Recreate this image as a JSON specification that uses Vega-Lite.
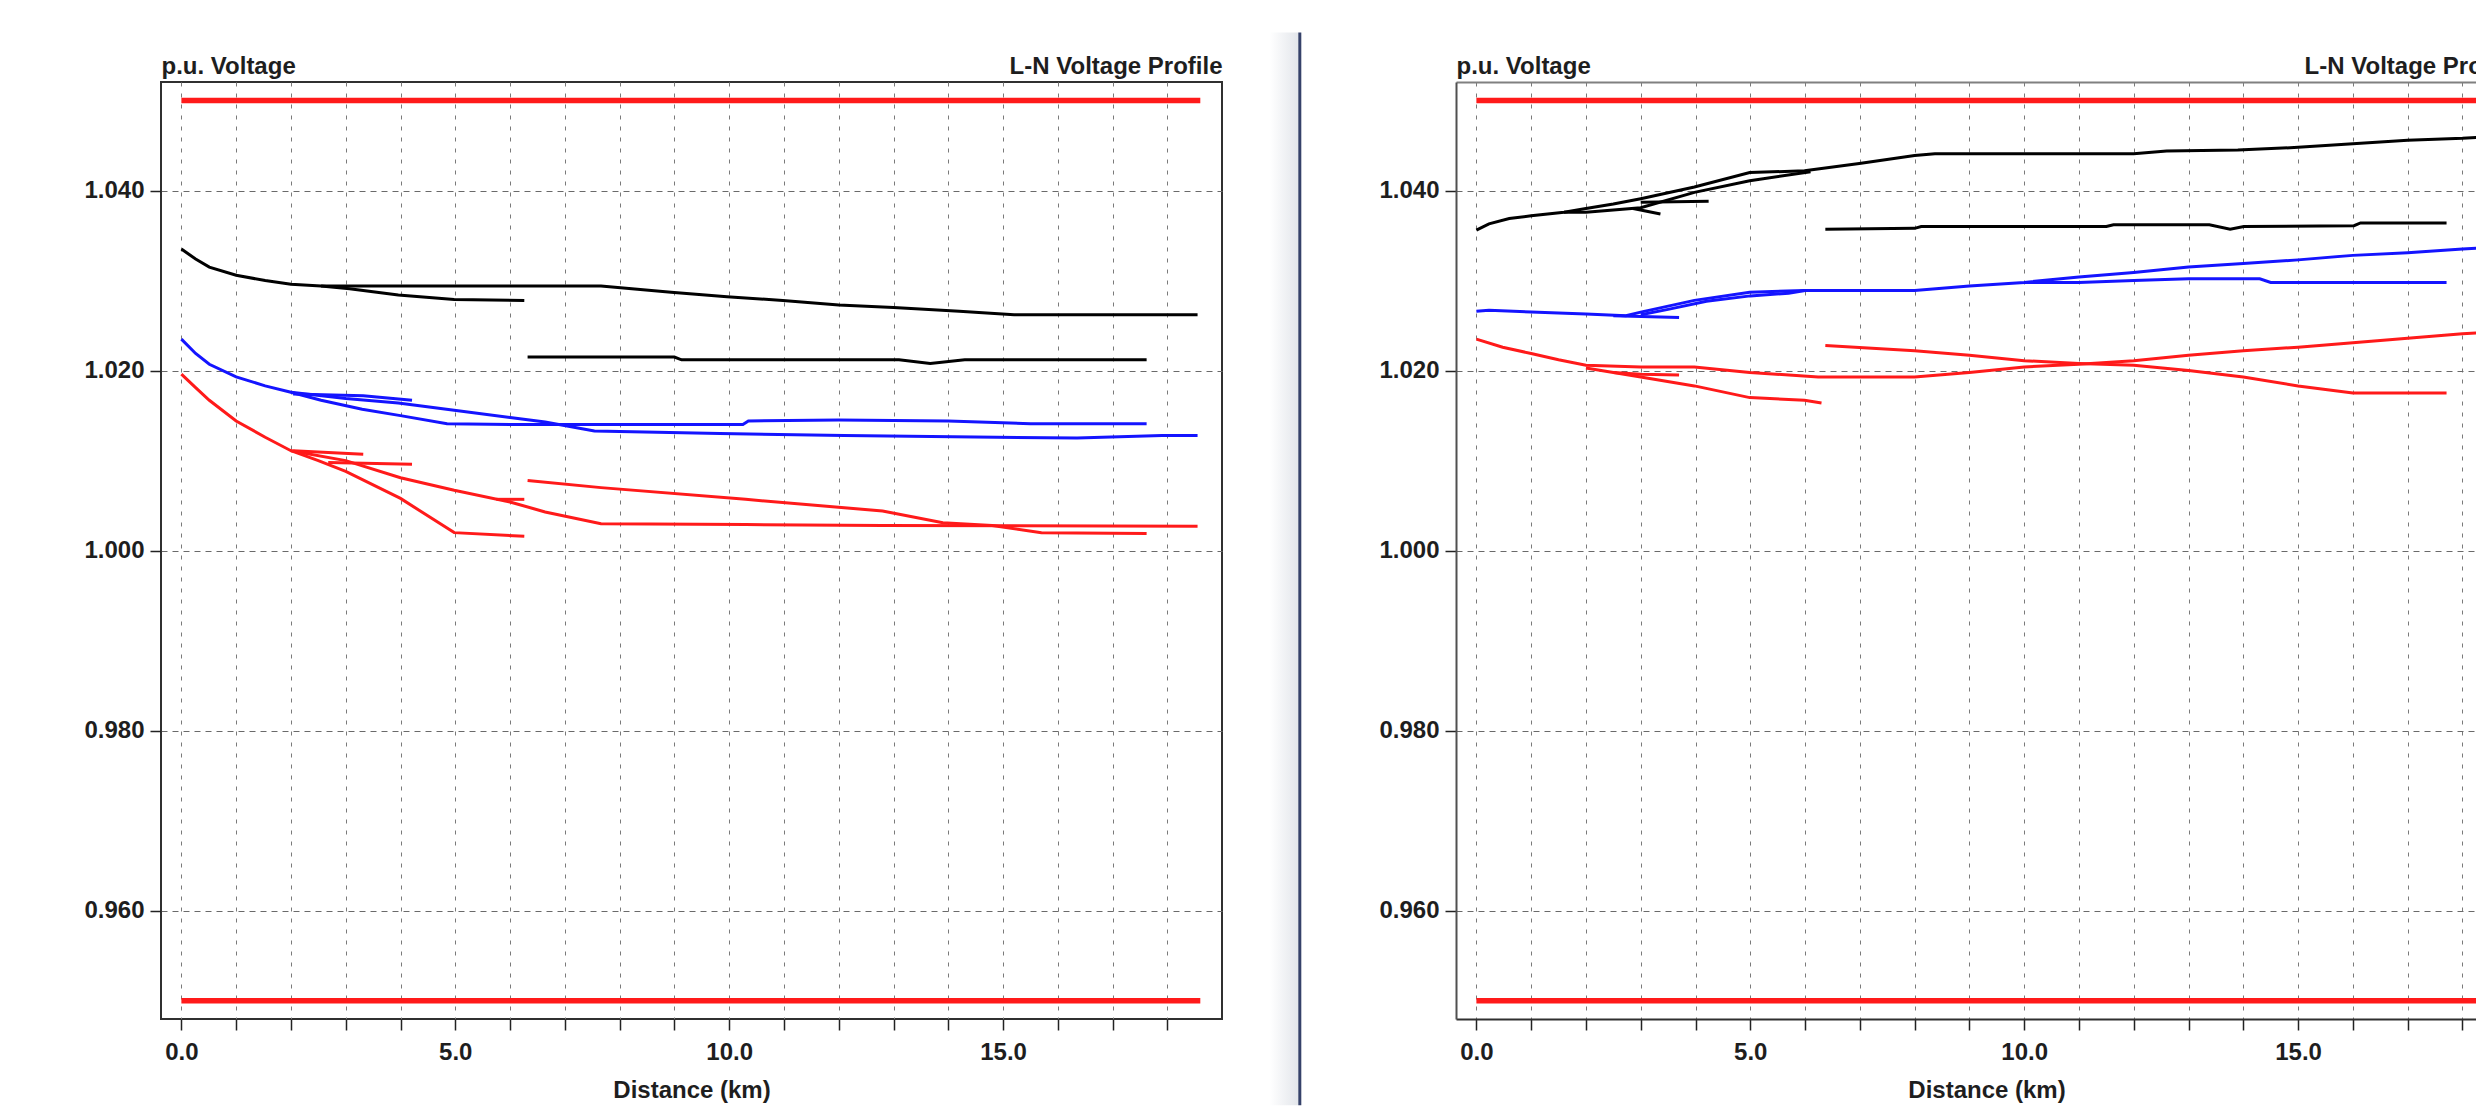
{
  "$schema": "https://vega.github.io/schema/vega-lite/v6.json",
  "background": "white",
  "padding": {"left": 82, "top": 32, "right": 0, "bottom": 0},
  "spacing": 0,
  "datasets": {
    "limits": [
      {"s": "hi", "km": 0, "v": 1.05}, {"s": "hi", "km": 18.6, "v": 1.05},
      {"s": "lo", "km": 0, "v": 0.95}, {"s": "lo", "km": 18.6, "v": 0.95}
    ],
    "curves": [
      {"p":"L","s":"L_A1","ph":"A","km":0,"v":1.0335},{"p":"L","s":"L_A1","ph":"A","km":0.26,"v":1.0324},{"p":"L","s":"L_A1","ph":"A","km":0.51,"v":1.0315},{"p":"L","s":"L_A1","ph":"A","km":1.0,"v":1.0306},{"p":"L","s":"L_A1","ph":"A","km":1.53,"v":1.03},{"p":"L","s":"L_A1","ph":"A","km":2.0,"v":1.0296},{"p":"L","s":"L_A1","ph":"A","km":2.55,"v":1.0294},{"p":"L","s":"L_A1","ph":"A","km":7.66,"v":1.0294},{"p":"L","s":"L_A1","ph":"A","km":8.94,"v":1.0287},{"p":"L","s":"L_A1","ph":"A","km":9.96,"v":1.0282},{"p":"L","s":"L_A1","ph":"A","km":10.98,"v":1.0278},{"p":"L","s":"L_A1","ph":"A","km":12.0,"v":1.0273},{"p":"L","s":"L_A1","ph":"A","km":13.0,"v":1.027},{"p":"L","s":"L_A1","ph":"A","km":14.2,"v":1.0266},{"p":"L","s":"L_A1","ph":"A","km":15.2,"v":1.0262},{"p":"L","s":"L_A1","ph":"A","km":18.55,"v":1.0262},
      {"p":"L","s":"L_A2","ph":"A","km":2.55,"v":1.0294},{"p":"L","s":"L_A2","ph":"A","km":3.07,"v":1.0291},{"p":"L","s":"L_A2","ph":"A","km":3.96,"v":1.0284},{"p":"L","s":"L_A2","ph":"A","km":4.98,"v":1.0279},{"p":"L","s":"L_A2","ph":"A","km":6.26,"v":1.0278},
      {"p":"L","s":"L_A3","ph":"A","km":6.32,"v":1.0215},{"p":"L","s":"L_A3","ph":"A","km":9.0,"v":1.0215},{"p":"L","s":"L_A3","ph":"A","km":9.13,"v":1.0212},{"p":"L","s":"L_A3","ph":"A","km":13.1,"v":1.0212},{"p":"L","s":"L_A3","ph":"A","km":13.67,"v":1.0208},{"p":"L","s":"L_A3","ph":"A","km":14.3,"v":1.0212},{"p":"L","s":"L_A3","ph":"A","km":17.62,"v":1.0212},
      {"p":"L","s":"L_B1","ph":"B","km":0,"v":1.0235},{"p":"L","s":"L_B1","ph":"B","km":0.26,"v":1.0219},{"p":"L","s":"L_B1","ph":"B","km":0.51,"v":1.0207},{"p":"L","s":"L_B1","ph":"B","km":1.0,"v":1.0193},{"p":"L","s":"L_B1","ph":"B","km":1.53,"v":1.0183},{"p":"L","s":"L_B1","ph":"B","km":2.0,"v":1.0176},{"p":"L","s":"L_B1","ph":"B","km":2.55,"v":1.0167},{"p":"L","s":"L_B1","ph":"B","km":3.3,"v":1.0157},{"p":"L","s":"L_B1","ph":"B","km":4.0,"v":1.015},{"p":"L","s":"L_B1","ph":"B","km":4.85,"v":1.0141},{"p":"L","s":"L_B1","ph":"B","km":6.0,"v":1.014},{"p":"L","s":"L_B1","ph":"B","km":10.25,"v":1.014},{"p":"L","s":"L_B1","ph":"B","km":10.35,"v":1.0144},{"p":"L","s":"L_B1","ph":"B","km":12.0,"v":1.0145},{"p":"L","s":"L_B1","ph":"B","km":14.0,"v":1.0144},{"p":"L","s":"L_B1","ph":"B","km":15.5,"v":1.0141},{"p":"L","s":"L_B1","ph":"B","km":17.62,"v":1.0141},
      {"p":"L","s":"L_B2","ph":"B","km":2.0,"v":1.0176},{"p":"L","s":"L_B2","ph":"B","km":3.0,"v":1.0169},{"p":"L","s":"L_B2","ph":"B","km":3.96,"v":1.0164},{"p":"L","s":"L_B2","ph":"B","km":4.98,"v":1.0156},{"p":"L","s":"L_B2","ph":"B","km":6.0,"v":1.0148},{"p":"L","s":"L_B2","ph":"B","km":6.64,"v":1.0143},{"p":"L","s":"L_B2","ph":"B","km":7.54,"v":1.0133},{"p":"L","s":"L_B2","ph":"B","km":9.83,"v":1.013},{"p":"L","s":"L_B2","ph":"B","km":12.1,"v":1.0128},{"p":"L","s":"L_B2","ph":"B","km":16.35,"v":1.0125},{"p":"L","s":"L_B2","ph":"B","km":17.9,"v":1.0128},{"p":"L","s":"L_B2","ph":"B","km":18.55,"v":1.0128},
      {"p":"L","s":"L_B3","ph":"B","km":2.04,"v":1.0174},{"p":"L","s":"L_B3","ph":"B","km":3.32,"v":1.0172},{"p":"L","s":"L_B3","ph":"B","km":4.21,"v":1.0167},
      {"p":"L","s":"L_C1","ph":"C","km":0,"v":1.0196},{"p":"L","s":"L_C1","ph":"C","km":0.26,"v":1.0181},{"p":"L","s":"L_C1","ph":"C","km":0.51,"v":1.0167},{"p":"L","s":"L_C1","ph":"C","km":1.0,"v":1.0144},{"p":"L","s":"L_C1","ph":"C","km":1.53,"v":1.0126},{"p":"L","s":"L_C1","ph":"C","km":2.0,"v":1.0111},{"p":"L","s":"L_C1","ph":"C","km":2.5,"v":1.01},{"p":"L","s":"L_C1","ph":"C","km":3.0,"v":1.0088},{"p":"L","s":"L_C1","ph":"C","km":4.0,"v":1.0058},{"p":"L","s":"L_C1","ph":"C","km":4.98,"v":1.002},{"p":"L","s":"L_C1","ph":"C","km":6.26,"v":1.0016},
      {"p":"L","s":"L_C2","ph":"C","km":2.0,"v":1.0111},{"p":"L","s":"L_C2","ph":"C","km":3.0,"v":1.01},{"p":"L","s":"L_C2","ph":"C","km":4.0,"v":1.0081},{"p":"L","s":"L_C2","ph":"C","km":4.98,"v":1.0067},{"p":"L","s":"L_C2","ph":"C","km":6.0,"v":1.0054},{"p":"L","s":"L_C2","ph":"C","km":6.64,"v":1.0043},{"p":"L","s":"L_C2","ph":"C","km":7.66,"v":1.003},{"p":"L","s":"L_C2","ph":"C","km":10.3,"v":1.0029},{"p":"L","s":"L_C2","ph":"C","km":12.8,"v":1.0028},{"p":"L","s":"L_C2","ph":"C","km":18.55,"v":1.0027},
      {"p":"L","s":"L_C3","ph":"C","km":6.32,"v":1.0078},{"p":"L","s":"L_C3","ph":"C","km":7.66,"v":1.007},{"p":"L","s":"L_C3","ph":"C","km":10.3,"v":1.0057},{"p":"L","s":"L_C3","ph":"C","km":12.8,"v":1.0044},{"p":"L","s":"L_C3","ph":"C","km":13.9,"v":1.0031},{"p":"L","s":"L_C3","ph":"C","km":14.8,"v":1.0028},{"p":"L","s":"L_C3","ph":"C","km":15.7,"v":1.002},{"p":"L","s":"L_C3","ph":"C","km":17.62,"v":1.0019},
      {"p":"L","s":"L_C4","ph":"C","km":2.04,"v":1.0111},{"p":"L","s":"L_C4","ph":"C","km":3.32,"v":1.0107},
      {"p":"L","s":"L_C5","ph":"C","km":2.68,"v":1.0098},{"p":"L","s":"L_C5","ph":"C","km":4.21,"v":1.0096},
      {"p":"L","s":"L_C6","ph":"C","km":5.75,"v":1.0057},{"p":"L","s":"L_C6","ph":"C","km":6.26,"v":1.0057},
      {"p":"R","s":"R_A1","ph":"A","km":0,"v":1.0356},{"p":"R","s":"R_A1","ph":"A","km":0.23,"v":1.0363},{"p":"R","s":"R_A1","ph":"A","km":0.6,"v":1.0369},{"p":"R","s":"R_A1","ph":"A","km":1.0,"v":1.0372},{"p":"R","s":"R_A1","ph":"A","km":1.6,"v":1.0376},{"p":"R","s":"R_A1","ph":"A","km":2.0,"v":1.038},{"p":"R","s":"R_A1","ph":"A","km":2.5,"v":1.0385},{"p":"R","s":"R_A1","ph":"A","km":3.0,"v":1.0391},{"p":"R","s":"R_A1","ph":"A","km":3.98,"v":1.0404},{"p":"R","s":"R_A1","ph":"A","km":4.99,"v":1.042},{"p":"R","s":"R_A1","ph":"A","km":5.99,"v":1.0422},{"p":"R","s":"R_A1","ph":"A","km":6.99,"v":1.043},{"p":"R","s":"R_A1","ph":"A","km":8.0,"v":1.0439},{"p":"R","s":"R_A1","ph":"A","km":8.37,"v":1.0441},{"p":"R","s":"R_A1","ph":"A","km":12.0,"v":1.0441},{"p":"R","s":"R_A1","ph":"A","km":12.6,"v":1.0444},{"p":"R","s":"R_A1","ph":"A","km":13.9,"v":1.0445},{"p":"R","s":"R_A1","ph":"A","km":15.0,"v":1.0448},{"p":"R","s":"R_A1","ph":"A","km":16.0,"v":1.0452},{"p":"R","s":"R_A1","ph":"A","km":17.0,"v":1.0456},{"p":"R","s":"R_A1","ph":"A","km":18.0,"v":1.0458},{"p":"R","s":"R_A1","ph":"A","km":18.55,"v":1.046},
      {"p":"R","s":"R_A2","ph":"A","km":1.6,"v":1.0376},{"p":"R","s":"R_A2","ph":"A","km":2.0,"v":1.0376},{"p":"R","s":"R_A2","ph":"A","km":3.0,"v":1.0381},{"p":"R","s":"R_A2","ph":"A","km":3.98,"v":1.0398},{"p":"R","s":"R_A2","ph":"A","km":4.99,"v":1.0411},{"p":"R","s":"R_A2","ph":"A","km":6.1,"v":1.0421},
      {"p":"R","s":"R_A3","ph":"A","km":3.0,"v":1.0387},{"p":"R","s":"R_A3","ph":"A","km":4.24,"v":1.0388},
      {"p":"R","s":"R_A4","ph":"A","km":2.86,"v":1.038},{"p":"R","s":"R_A4","ph":"A","km":3.36,"v":1.0374},
      {"p":"R","s":"R_A5","ph":"A","km":6.37,"v":1.0357},{"p":"R","s":"R_A5","ph":"A","km":8.0,"v":1.0358},{"p":"R","s":"R_A5","ph":"A","km":8.12,"v":1.036},{"p":"R","s":"R_A5","ph":"A","km":11.5,"v":1.036},{"p":"R","s":"R_A5","ph":"A","km":11.63,"v":1.0362},{"p":"R","s":"R_A5","ph":"A","km":13.38,"v":1.0362},{"p":"R","s":"R_A5","ph":"A","km":13.76,"v":1.0357},{"p":"R","s":"R_A5","ph":"A","km":14.01,"v":1.036},{"p":"R","s":"R_A5","ph":"A","km":16.02,"v":1.0361},{"p":"R","s":"R_A5","ph":"A","km":16.14,"v":1.0364},{"p":"R","s":"R_A5","ph":"A","km":17.71,"v":1.0364},
      {"p":"R","s":"R_B1","ph":"B","km":0,"v":1.0266},{"p":"R","s":"R_B1","ph":"B","km":0.23,"v":1.0267},{"p":"R","s":"R_B1","ph":"B","km":1.0,"v":1.0265},{"p":"R","s":"R_B1","ph":"B","km":2.0,"v":1.0263},{"p":"R","s":"R_B1","ph":"B","km":2.73,"v":1.0261},{"p":"R","s":"R_B1","ph":"B","km":3.0,"v":1.0265},{"p":"R","s":"R_B1","ph":"B","km":3.98,"v":1.0278},{"p":"R","s":"R_B1","ph":"B","km":4.99,"v":1.0287},{"p":"R","s":"R_B1","ph":"B","km":5.99,"v":1.0289},{"p":"R","s":"R_B1","ph":"B","km":8.0,"v":1.0289},{"p":"R","s":"R_B1","ph":"B","km":9.0,"v":1.0294},{"p":"R","s":"R_B1","ph":"B","km":10.0,"v":1.0298},{"p":"R","s":"R_B1","ph":"B","km":11.0,"v":1.0304},{"p":"R","s":"R_B1","ph":"B","km":12.0,"v":1.0309},{"p":"R","s":"R_B1","ph":"B","km":13.0,"v":1.0315},{"p":"R","s":"R_B1","ph":"B","km":14.0,"v":1.0319},{"p":"R","s":"R_B1","ph":"B","km":15.0,"v":1.0323},{"p":"R","s":"R_B1","ph":"B","km":16.0,"v":1.0328},{"p":"R","s":"R_B1","ph":"B","km":17.0,"v":1.0331},{"p":"R","s":"R_B1","ph":"B","km":18.0,"v":1.0335},{"p":"R","s":"R_B1","ph":"B","km":18.55,"v":1.0337},
      {"p":"R","s":"R_B2","ph":"B","km":10.0,"v":1.0298},{"p":"R","s":"R_B2","ph":"B","km":11.0,"v":1.0298},{"p":"R","s":"R_B2","ph":"B","km":12.0,"v":1.03},{"p":"R","s":"R_B2","ph":"B","km":13.0,"v":1.0302},{"p":"R","s":"R_B2","ph":"B","km":14.3,"v":1.0302},{"p":"R","s":"R_B2","ph":"B","km":14.5,"v":1.0298},{"p":"R","s":"R_B2","ph":"B","km":17.71,"v":1.0298},
      {"p":"R","s":"R_B3","ph":"B","km":2.5,"v":1.0261},{"p":"R","s":"R_B3","ph":"B","km":3.7,"v":1.0259},
      {"p":"R","s":"R_B4","ph":"B","km":3.0,"v":1.0262},{"p":"R","s":"R_B4","ph":"B","km":3.5,"v":1.0268},{"p":"R","s":"R_B4","ph":"B","km":4.2,"v":1.0277},{"p":"R","s":"R_B4","ph":"B","km":5.0,"v":1.0283},{"p":"R","s":"R_B4","ph":"B","km":5.7,"v":1.0286},{"p":"R","s":"R_B4","ph":"B","km":6.0,"v":1.0289},
      {"p":"R","s":"R_C1","ph":"C","km":0,"v":1.0235},{"p":"R","s":"R_C1","ph":"C","km":0.48,"v":1.0226},{"p":"R","s":"R_C1","ph":"C","km":1.0,"v":1.0219},{"p":"R","s":"R_C1","ph":"C","km":1.5,"v":1.0212},{"p":"R","s":"R_C1","ph":"C","km":2.0,"v":1.0206},{"p":"R","s":"R_C1","ph":"C","km":3.0,"v":1.0204},{"p":"R","s":"R_C1","ph":"C","km":3.98,"v":1.0204},{"p":"R","s":"R_C1","ph":"C","km":4.99,"v":1.0198},{"p":"R","s":"R_C1","ph":"C","km":6.24,"v":1.0193},{"p":"R","s":"R_C1","ph":"C","km":8.0,"v":1.0193},{"p":"R","s":"R_C1","ph":"C","km":9.0,"v":1.0198},{"p":"R","s":"R_C1","ph":"C","km":10.0,"v":1.0204},{"p":"R","s":"R_C1","ph":"C","km":11.0,"v":1.0207},{"p":"R","s":"R_C1","ph":"C","km":12.0,"v":1.0211},{"p":"R","s":"R_C1","ph":"C","km":13.0,"v":1.0217},{"p":"R","s":"R_C1","ph":"C","km":14.0,"v":1.0222},{"p":"R","s":"R_C1","ph":"C","km":15.0,"v":1.0226},{"p":"R","s":"R_C1","ph":"C","km":16.0,"v":1.0231},{"p":"R","s":"R_C1","ph":"C","km":17.0,"v":1.0236},{"p":"R","s":"R_C1","ph":"C","km":18.0,"v":1.0241},{"p":"R","s":"R_C1","ph":"C","km":18.55,"v":1.0243},
      {"p":"R","s":"R_C2","ph":"C","km":2.0,"v":1.0203},{"p":"R","s":"R_C2","ph":"C","km":3.0,"v":1.0193},{"p":"R","s":"R_C2","ph":"C","km":3.98,"v":1.0183},{"p":"R","s":"R_C2","ph":"C","km":4.99,"v":1.017},{"p":"R","s":"R_C2","ph":"C","km":5.99,"v":1.0167},{"p":"R","s":"R_C2","ph":"C","km":6.3,"v":1.0164},
      {"p":"R","s":"R_C3","ph":"C","km":2.5,"v":1.0198},{"p":"R","s":"R_C3","ph":"C","km":3.0,"v":1.0196},{"p":"R","s":"R_C3","ph":"C","km":3.7,"v":1.0195},
      {"p":"R","s":"R_C4","ph":"C","km":6.37,"v":1.0228},{"p":"R","s":"R_C4","ph":"C","km":8.0,"v":1.0222},{"p":"R","s":"R_C4","ph":"C","km":9.0,"v":1.0217},{"p":"R","s":"R_C4","ph":"C","km":10.0,"v":1.0211},{"p":"R","s":"R_C4","ph":"C","km":11.0,"v":1.0208},{"p":"R","s":"R_C4","ph":"C","km":12.0,"v":1.0206},{"p":"R","s":"R_C4","ph":"C","km":13.0,"v":1.02},{"p":"R","s":"R_C4","ph":"C","km":14.0,"v":1.0193},{"p":"R","s":"R_C4","ph":"C","km":15.0,"v":1.0183},{"p":"R","s":"R_C4","ph":"C","km":16.0,"v":1.0175},{"p":"R","s":"R_C4","ph":"C","km":17.71,"v":1.0175}
    ]
  },
  "hconcat": [
    {
      "width": 1061, "height": 937,
      "view": {"stroke": "#303030", "strokeWidth": 2},
      "resolve": {"axis": {"x": "independent"}},
      "layer": [
        {
          "data": {"name": "limits"},
          "mark": {"type": "line", "color": "#ff1a1a", "strokeWidth": 5.5},
          "encoding": {
            "x": {"field": "km", "type": "quantitative",
              "scale": {"domain": [-0.372, 18.996], "nice": false, "zero": false},
              "axis": {"orient": "bottom", "values": [0,1,2,3,4,5,6,7,8,9,10,11,12,13,14,15,16,17,18],
                "labelExpr": "datum.value % 5 === 0 ? format(datum.value, '.1f') : ''",
                "title": "Distance (km)", "grid": true, "gridDash": [4, 7], "gridColor": "#7a7a7a", "gridWidth": 1,
                "domain": false, "tickSize": 11, "tickColor": "#222222", "tickWidth": 1.5,
                "labelPadding": 10, "labelOverlap": false, "labelFlush": false, "titlePadding": 14}},
            "y": {"field": "v", "type": "quantitative",
              "scale": {"domain": [0.94797, 1.05206], "nice": false, "zero": false},
              "axis": {"values": [0.96, 0.98, 1.0, 1.02, 1.04], "format": ".3f",
                "title": "p.u. Voltage", "titleAngle": 0, "titleAlign": "left", "titleBaseline": "alphabetic",
                "titleX": 0, "titleY": -9, "grid": true, "gridDash": [6, 5], "gridColor": "#6a6a6a",
                "domain": false, "tickSize": 11, "tickColor": "#222222", "tickWidth": 1.5, "labelPadding": 6}},
            "detail": {"field": "s"}
          }
        },
        {
          "data": {"name": "curves"},
          "transform": [{"filter": "datum.p === 'L'"}],
          "mark": {"type": "line", "strokeWidth": 3},
          "encoding": {
            "x": {"field": "km", "type": "quantitative", "axis": null},
            "y": {"field": "v", "type": "quantitative"},
            "detail": {"field": "s"},
            "color": {"field": "ph", "type": "nominal", "legend": null,
              "scale": {"domain": ["A", "B", "C"], "range": ["#000000", "#1414ff", "#ff1a1a"]}}
          }
        },
        {
          "data": {"name": "limits"},
          "mark": {"type": "line", "opacity": 0},
          "encoding": {
            "x": {"field": "km", "type": "quantitative",
              "axis": {"orient": "top", "title": "L-N Voltage Profile", "titleAnchor": "end", "titleAlign": "right",
                "titleAngle": 0, "titleBaseline": "alphabetic", "titleY": -9,
                "labels": false, "ticks": false, "grid": false, "domain": false}},
            "y": {"field": "v", "type": "quantitative"},
            "detail": {"field": "s"}
          }
        }
      ]
    },
    {
      "width": 155, "height": 937,
      "view": {"stroke": null},
      "data": {"values": [{}]},
      "layer": [
        {
          "mark": {"type": "rect", "color": {"gradient": "linear", "x1": 0, "x2": 1, "y1": 0, "y2": 0,
            "stops": [{"offset": 0, "color": "#ffffff"}, {"offset": 1, "color": "#e3e6eb"}]}},
          "encoding": {
            "x": {"datum": 0.301, "type": "quantitative", "scale": {"domain": [0, 1]}, "axis": null},
            "x2": {"datum": 0.4858},
            "y": {"datum": 1.0528, "type": "quantitative", "scale": {"domain": [0, 1]}, "axis": null},
            "y2": {"datum": -0.092}
          }
        },
        {
          "mark": {"type": "rect", "color": "#36426a"},
          "encoding": {
            "x": {"datum": 0.4858, "type": "quantitative", "axis": null},
            "x2": {"datum": 0.5052},
            "y": {"datum": 1.0528, "type": "quantitative", "axis": null},
            "y2": {"datum": -0.092}
          }
        }
      ]
    },
    {
      "width": 1061, "height": 937,
      "view": {"stroke": null},
      "resolve": {"axis": {"x": "independent"}},
      "layer": [
        {
          "data": {"name": "limits"},
          "mark": {"type": "line", "color": "#ff1a1a", "strokeWidth": 5.5},
          "encoding": {
            "x": {"field": "km", "type": "quantitative",
              "scale": {"domain": [-0.372, 18.996], "nice": false, "zero": false},
              "axis": {"orient": "bottom", "values": [0,1,2,3,4,5,6,7,8,9,10,11,12,13,14,15,16,17,18],
                "labelExpr": "datum.value % 5 === 0 ? format(datum.value, '.1f') : ''",
                "title": "Distance (km)", "grid": true, "gridDash": [4, 7], "gridColor": "#7a7a7a", "gridWidth": 1,
                "domain": true, "domainColor": "#303030", "domainWidth": 2,
                "tickSize": 11, "tickColor": "#222222", "tickWidth": 1.5,
                "labelPadding": 10, "labelOverlap": false, "labelFlush": false, "titlePadding": 14}},
            "y": {"field": "v", "type": "quantitative",
              "scale": {"domain": [0.94797, 1.05206], "nice": false, "zero": false},
              "axis": {"values": [0.96, 0.98, 1.0, 1.02, 1.04], "format": ".3f",
                "title": "p.u. Voltage", "titleAngle": 0, "titleAlign": "left", "titleBaseline": "alphabetic",
                "titleX": 0, "titleY": -9, "grid": true, "gridDash": [6, 5], "gridColor": "#6a6a6a",
                "domain": true, "domainColor": "#505050", "domainWidth": 2,
                "tickSize": 11, "tickColor": "#222222", "tickWidth": 1.5, "labelPadding": 6}},
            "detail": {"field": "s"}
          }
        },
        {
          "data": {"name": "curves"},
          "transform": [{"filter": "datum.p === 'R'"}],
          "mark": {"type": "line", "strokeWidth": 3},
          "encoding": {
            "x": {"field": "km", "type": "quantitative", "axis": null},
            "y": {"field": "v", "type": "quantitative"},
            "detail": {"field": "s"},
            "color": {"field": "ph", "type": "nominal", "legend": null,
              "scale": {"domain": ["A", "B", "C"], "range": ["#000000", "#1414ff", "#ff1a1a"]}}
          }
        },
        {
          "data": {"name": "limits"},
          "mark": {"type": "line", "opacity": 0},
          "encoding": {
            "x": {"field": "km", "type": "quantitative",
              "axis": {"orient": "top", "title": "L-N Voltage Profile", "titleAnchor": "end", "titleAlign": "right",
                "titleAngle": 0, "titleBaseline": "alphabetic", "titleY": -9,
                "labels": false, "ticks": false, "grid": false,
                "domain": true, "domainColor": "#808080", "domainWidth": 2}},
            "y": {"field": "v", "type": "quantitative"},
            "detail": {"field": "s"}
          }
        }
      ]
    }
  ],
  "config": {
    "font": "Liberation Sans",
    "view": {"stroke": null},
    "axis": {
      "labelFont": "Liberation Sans", "labelFontSize": 24, "labelFontWeight": "bold", "labelColor": "#1e1e1e",
      "titleFont": "Liberation Sans", "titleFontSize": 24, "titleFontWeight": "bold", "titleColor": "#1e1e1e"
    }
  }
}
